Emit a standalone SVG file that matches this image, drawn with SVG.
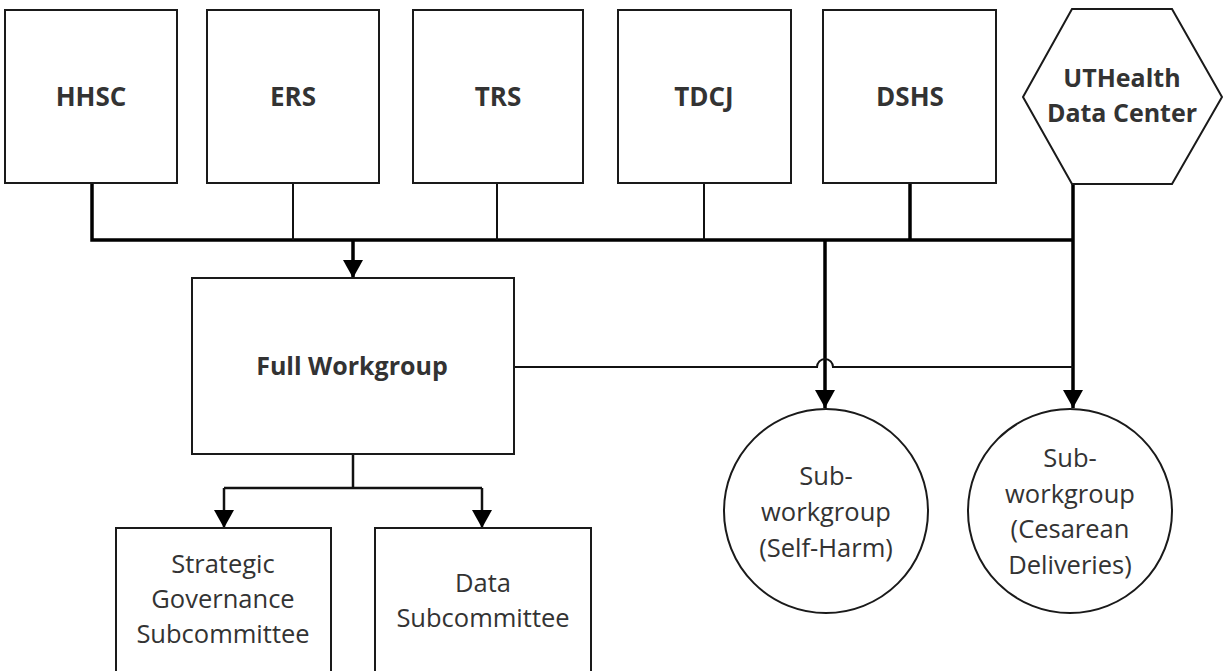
<svg xmlns="http://www.w3.org/2000/svg" width="1225" height="671" viewBox="0 0 1225 671">
<style>
.box{fill:#fff;stroke:#1a1a1a;stroke-width:2}
.b{font-family:"Open Sans","Liberation Sans",sans-serif;font-weight:bold;fill:#333;text-anchor:middle}
.r{font-family:"Open Sans","Liberation Sans",sans-serif;fill:#333;text-anchor:middle;font-size:25.5px}
.thick{fill:none;stroke:#000;stroke-width:3.5}
.thin{fill:none;stroke:#111;stroke-width:2}
.mid{fill:none;stroke:#111;stroke-width:2.5}
</style>
<defs>
<marker id="ah" markerUnits="userSpaceOnUse" markerWidth="20" markerHeight="20" viewBox="0 0 20 20" refX="18" refY="10" orient="auto">
<path d="M0,0 L18,10 L0,20 Z" fill="#000"/>
</marker>
</defs>
<rect width="1225" height="671" fill="#fff"/>
<g id="connectors">
<path class="thick" d="M92 183 V240 H1073"/>
<path class="thin" d="M293 183 V240"/>
<path class="thin" d="M497 183 V240"/>
<path class="thin" d="M704 183 V240"/>
<path class="thick" d="M910 183 V240"/>
<path class="thick" d="M1073 184 V408" marker-end="url(#ah)"/>
<path class="thick" d="M353 240 V278" marker-end="url(#ah)"/>
<path class="thick" d="M825 240 V408" marker-end="url(#ah)"/>
<path class="thin" d="M514 367 H817 A8 8 0 0 1 833 367 H1073"/>
<path class="mid" d="M353 454 V488"/>
<path class="mid" d="M224 488 H482"/>
<path class="mid" d="M224 488 V528" marker-end="url(#ah)"/>
<path class="mid" d="M482 488 V528" marker-end="url(#ah)"/>
</g>
<g id="hhsc"><rect class="box" x="5" y="10" width="172" height="173"/><text class="b" x="91" y="106" font-size="26">HHSC</text></g>
<g id="ers"><rect class="box" x="207" y="10" width="172" height="173"/><text class="b" x="293" y="106" font-size="26">ERS</text></g>
<g id="trs"><rect class="box" x="413" y="10" width="170" height="173"/><text class="b" x="498" y="106" font-size="26">TRS</text></g>
<g id="tdcj"><rect class="box" x="618" y="10" width="173" height="173"/><text class="b" x="704" y="106" font-size="26">TDCJ</text></g>
<g id="dshs"><rect class="box" x="823" y="10" width="173" height="173"/><text class="b" x="910" y="106" font-size="26">DSHS</text></g>
<g id="uthealth"><polygon class="box" points="1072,9 1172,9 1222,97 1172,184 1072,184 1023,97"/><text class="b" x="1122" y="87" font-size="25">UTHealth</text><text class="b" x="1122" y="122" font-size="25">Data Center</text></g>
<g id="full-workgroup"><rect class="box" x="192" y="278" width="322" height="176"/><text class="b" x="352" y="375" font-size="25">Full Workgroup</text></g>
<g id="strategic"><rect class="box" x="116" y="528" width="215" height="160"/><text class="r" x="223" y="573">Strategic</text><text class="r" x="223" y="608">Governance</text><text class="r" x="223" y="643">Subcommittee</text></g>
<g id="data"><rect class="box" x="375" y="528" width="216" height="160"/><text class="r" x="483" y="592">Data</text><text class="r" x="483" y="627">Subcommittee</text></g>
<g id="self-harm"><circle class="box" cx="826" cy="511" r="102"/><text class="r" x="826" y="485">Sub-</text><text class="r" x="826" y="521">workgroup</text><text class="r" x="826" y="557">(Self-Harm)</text></g>
<g id="cesarean"><circle class="box" cx="1070" cy="511" r="102"/><text class="r" x="1070" y="467">Sub-</text><text class="r" x="1070" y="503">workgroup</text><text class="r" x="1070" y="538">(Cesarean</text><text class="r" x="1070" y="574">Deliveries)</text></g>
</svg>
